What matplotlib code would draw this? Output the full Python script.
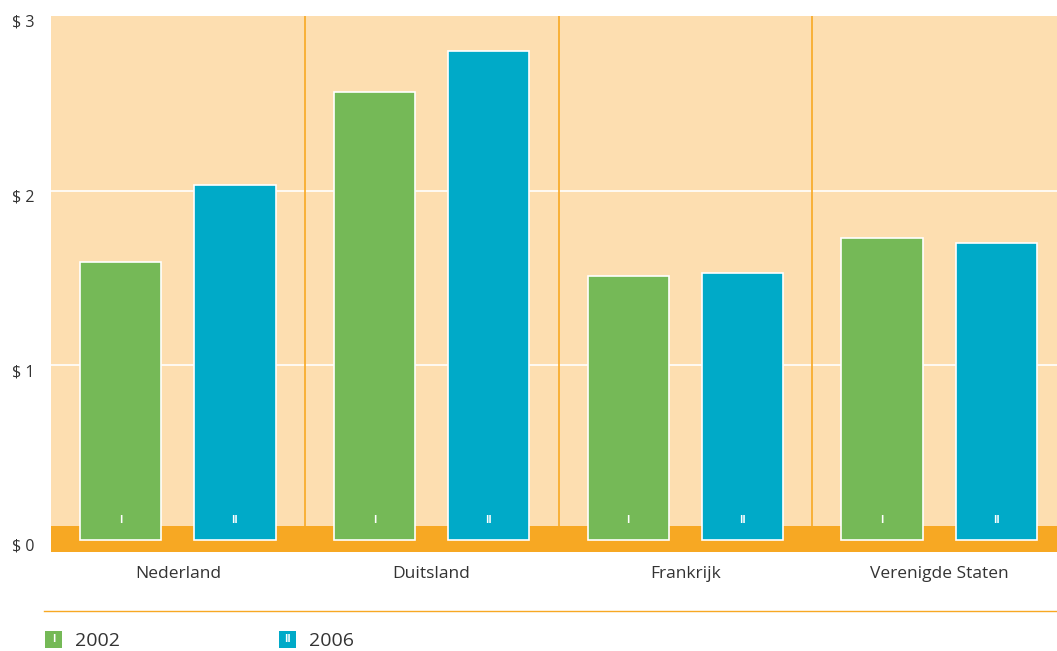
import matplotlib
matplotlib.use("Agg")
import matplotlib.pyplot as plt
import matplotlib.transforms as mtransforms
from matplotlib.patches import Rectangle
from matplotlib.lines import Line2D
import numpy as np

# data
countries = ["Nederland", "Duitsland", "Frankrijk", "Verenigde Staten"]
years = ["2002", "2006"]
marks = ["I", "II"]
values_2002 = [1.59, 2.565, 1.51, 1.73]
values_2006 = [2.03, 2.80, 1.53, 1.70]
y_ticks = [0, 1, 2, 3]
y_tick_labels = ["$ 0", "$ 1", "$ 2", "$ 3"]

GREEN = "#75b957"
BLUE = "#00aac8"
BG = "#fddeb0"
ORANGE = "#f7a823"
TEXT = "#333333"

plt.rcParams["font.family"] = ["Open Sans", "DejaVu Sans"]

W, H = 1057, 651
fig = plt.figure(figsize=(W / 100, H / 100), dpi=100)
ax = fig.add_axes([51 / W, 1 - 552 / H, 1015 / W, 536 / H])
ax.set_facecolor(BG)

x = np.arange(len(countries))
width = 0.32
offset = 0.225

ax.set_xlim(-0.5, 3.5)
ax.set_ylim(-0.07, 2.995)

# grid, separators and the orange base band
for yv in [1, 2]:
    ax.axhline(yv, color="white", lw=1.2, zorder=1)
for xs in [0.5, 1.5, 2.5]:
    ax.axvline(xs, color=ORANGE, lw=1.2, zorder=1)
ax.axhspan(-0.07, 0.08, color=ORANGE, zorder=2, lw=0)

series = [values_2002, values_2006]
colors = [GREEN, BLUE]
for i, (vals, col) in enumerate(zip(series, colors)):
    pos = x + (i * 2 - 1) * offset
    ax.bar(pos, vals, width, color=col, edgecolor="white", lw=1.2, zorder=3)
    for p in pos:
        ax.text(p, 0.11, marks[i], color="white", fontsize=7.5,
                ha="center", va="center", zorder=4, fontweight="bold")

for s in ax.spines.values():
    s.set_visible(False)

ax.set_yticks(y_ticks)
ax.set_yticklabels(y_tick_labels, fontsize=11.5, color=TEXT)
ax.tick_params(axis="y", length=0, pad=12)
shift = mtransforms.ScaledTranslation(0, -5 / 100, fig.dpi_scale_trans)
for lab in ax.get_yticklabels():
    lab.set_transform(lab.get_transform() + shift)

ax.set_xticks(x)
ax.set_xticklabels(countries, fontsize=12.5, color=TEXT)
ax.tick_params(axis="x", length=0, pad=10)

# legend separator line
fig.add_artist(Line2D([44 / W, 1.0], [1 - 611 / H, 1 - 611 / H],
                      color=ORANGE, lw=1.0, transform=fig.transFigure))

# legend
leg_x = [45, 279]
for i, lx in enumerate(leg_x):
    fig.add_artist(Rectangle((lx / W, 1 - 648 / H), 17 / W, 17 / H,
                             color=colors[i], transform=fig.transFigure, lw=0))
    fig.text((lx + 8.5) / W, 1 - 639.5 / H, marks[i], color="white",
             fontsize=7.5, ha="center", va="center", fontweight="bold")
    fig.text((lx + 30) / W, 1 - 641 / H, years[i], color=TEXT,
             fontsize=14, ha="left", va="center")

fig.savefig("out.png", dpi=100)
